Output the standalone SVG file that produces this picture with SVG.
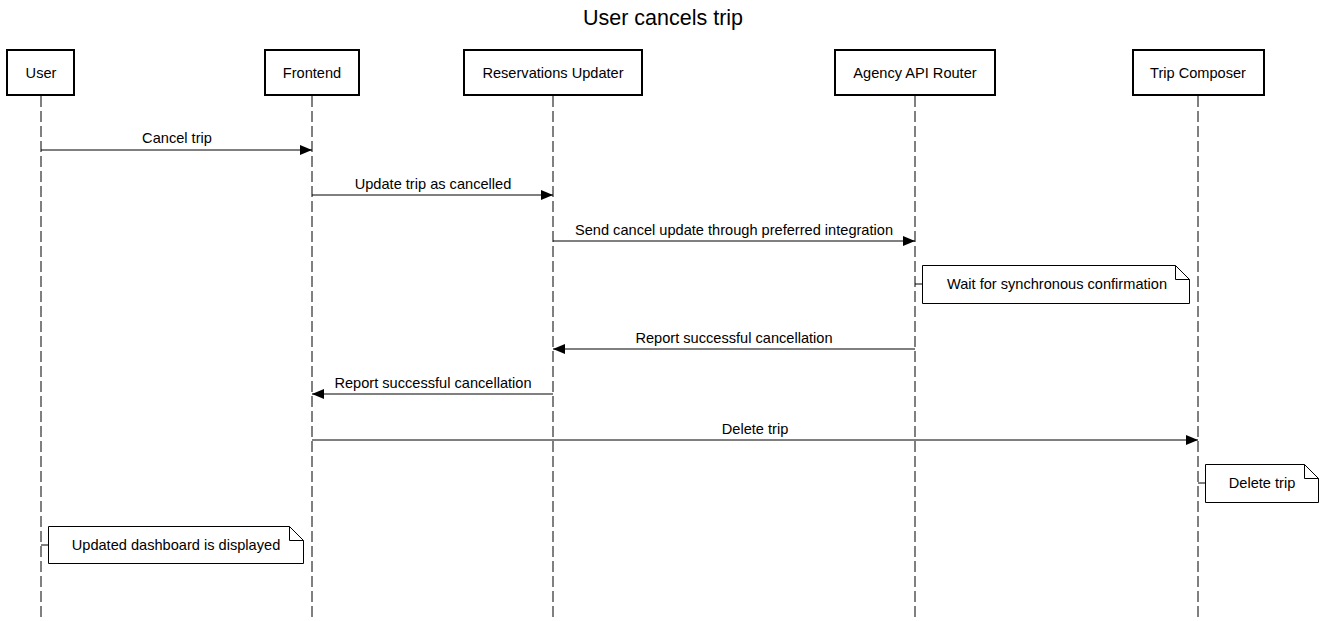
<svg xmlns="http://www.w3.org/2000/svg" width="1327" height="621" viewBox="0 0 1327 621">
<defs>
<style>
text{font-family:"Liberation Sans",Arial,sans-serif;fill:#000}
.actor rect{fill:#fff;stroke:#000;stroke-width:2}
.actor text{font-size:14.6px;text-anchor:middle}
.life{stroke:#000;stroke-width:1;stroke-dasharray:11,4}
.msg{stroke:#000;stroke-width:1;fill:none}
.lbl{font-size:14.6px;text-anchor:middle}
.note path{fill:#fff;stroke:#000;stroke-width:1}
.note text{font-size:14.6px;text-anchor:middle}
</style>
<marker id="arr" viewBox="0 0 12 10" refX="12" refY="5" markerWidth="12" markerHeight="10" markerUnits="userSpaceOnUse" orient="auto">
<path d="M0,0 L12,5 L0,10 Z" fill="#000"/>
</marker>
</defs>
<rect width="1327" height="621" fill="#fff"/>
<text x="663" y="25" font-size="21.5" text-anchor="middle">User cancels trip</text>

<g id="lifelines">
<line class="life" x1="41" y1="96" x2="41" y2="621"/>
<line class="life" x1="312" y1="96" x2="312" y2="621"/>
<line class="life" x1="553" y1="96" x2="553" y2="621"/>
<line class="life" x1="915" y1="96" x2="915" y2="621"/>
<line class="life" x1="1198" y1="96" x2="1198" y2="621"/>
</g>

<g id="user" class="actor"><rect x="7" y="50" width="67" height="45"/><text x="41" y="78">User</text></g>
<g id="frontend" class="actor"><rect x="265" y="50" width="94" height="45"/><text x="312" y="78">Frontend</text></g>
<g id="reservations" class="actor"><rect x="464" y="50" width="178" height="45"/><text x="553" y="78">Reservations Updater</text></g>
<g id="agency" class="actor"><rect x="835" y="50" width="160" height="45"/><text x="915" y="78">Agency API Router</text></g>
<g id="composer" class="actor"><rect x="1133" y="50" width="131" height="45"/><text x="1198" y="78">Trip Composer</text></g>

<g id="connectors">
<line class="msg" x1="41" y1="150" x2="312" y2="150" marker-end="url(#arr)"/>
<text class="lbl" x="177" y="143">Cancel trip</text>
<line class="msg" x1="312" y1="195" x2="553" y2="195" marker-end="url(#arr)"/>
<text class="lbl" x="433" y="189">Update trip as cancelled</text>
<line class="msg" x1="553" y1="241" x2="915" y2="241" marker-end="url(#arr)"/>
<text class="lbl" x="734" y="235">Send cancel update through preferred integration</text>
<line class="msg" x1="915" y1="349" x2="553" y2="349" marker-end="url(#arr)"/>
<text class="lbl" x="734" y="343">Report successful cancellation</text>
<line class="msg" x1="553" y1="394" x2="312" y2="394" marker-end="url(#arr)"/>
<text class="lbl" x="433" y="388">Report successful cancellation</text>
<line class="msg" x1="312" y1="440" x2="1198" y2="440" marker-end="url(#arr)"/>
<text class="lbl" x="755" y="434">Delete trip</text>
<line class="msg" x1="915" y1="284" x2="922" y2="284"/>
<line class="msg" x1="1198" y1="483" x2="1205" y2="483"/>
<line class="msg" x1="41" y1="545" x2="48" y2="545"/>
</g>

<g id="note1" class="note"><path d="M922.5,265.5 H1175.5 L1189.5,279.5 V303.5 H922.5 Z M1175.5,265.5 V279.5 H1189.5"/><text x="1057" y="289">Wait for synchronous confirmation</text></g>
<g id="note2" class="note"><path d="M1205.5,464.5 H1304.5 L1318.5,478.5 V502.5 H1205.5 Z M1304.5,464.5 V478.5 H1318.5"/><text x="1262" y="488">Delete trip</text></g>
<g id="note3" class="note"><path d="M48.5,526.5 H289.5 L303.5,540.5 V563.5 H48.5 Z M289.5,526.5 V540.5 H303.5"/><text x="176" y="550">Updated dashboard is displayed</text></g>
</svg>
